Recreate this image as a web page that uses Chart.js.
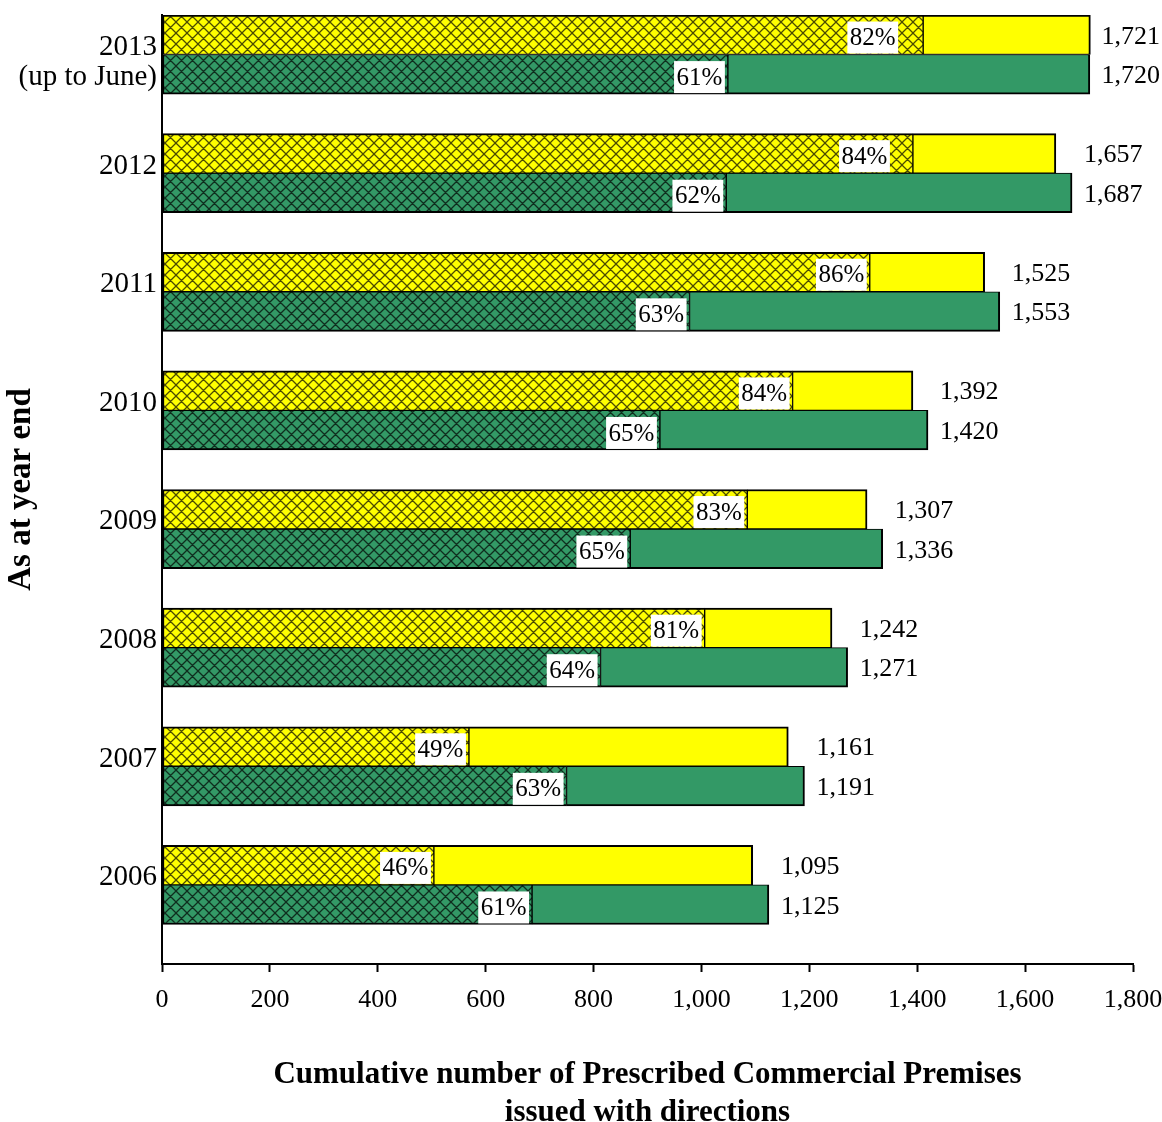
<!DOCTYPE html>
<html lang="en">
<head>
<meta charset="UTF-8">
<title>Prescribed Commercial Premises issued with directions</title>
<style>
  body { margin: 0; background: #fff; }
  #wrap { width: 1162px; height: 1122px; }
</style>
</head>
<body>
<div id="wrap"><canvas id="premisesChart" width="1162" height="1122"></canvas></div>
<script src="https://cdn.jsdelivr.net/npm/chart.js"></script>
<script>
// blank first line keeps "2013" level with the other year labels
const years = [['', '2013', '(up to June)'], '2012', '2011', '2010', '2009', '2008', '2007', '2006'];
const yellowTotals = [1721, 1657, 1525, 1392, 1307, 1242, 1161, 1095];
const yellowPct = [82, 84, 86, 84, 83, 81, 49, 46];
const greenTotals = [1720, 1687, 1553, 1420, 1336, 1271, 1191, 1125];
const greenPct = [61, 62, 63, 65, 65, 64, 63, 61];
const xTicks = [0, 200, 400, 600, 800, 1000, 1200, 1400, 1600, 1800];

const SERIF = '"Liberation Serif", "Times New Roman", serif';
const YELLOW = '#ffff00';
const GREEN = '#339966';

// hatched share of each bar, and what is left of the total
const share = (tot, pct) => tot.map((t, i) => Math.round(t * pct[i] / 100));
const rest = (tot, part) => tot.map((t, i) => t - part[i]);
const yellowHatch = share(yellowTotals, yellowPct);
const greenHatch = share(greenTotals, greenPct);

function crossHatch(bg) {
  const s = 11;
  const c = document.createElement('canvas');
  c.width = s; c.height = s;
  const g = c.getContext('2d');
  g.fillStyle = bg;
  g.fillRect(0, 0, s, s);
  g.strokeStyle = 'rgba(0,0,0,0.7)';
  g.lineWidth = 1.3;
  g.beginPath();
  for (const o of [-s, 0, s]) {
    g.moveTo(o, 0); g.lineTo(o + s, s);
    g.moveTo(o + s, 0); g.lineTo(o, s);
  }
  g.stroke();
  return g.createPattern(c, 'repeat');
}

// percentage boxes at the hatch edge and totals after the bars
const barLabels = {
  id: 'barLabels',
  afterDatasetsDraw(chart) {
    const ctx = chart.ctx;
    const nudge = { yellow: { 0: -22, 1: -20 }, green: {} };
    const rows = [
      { key: 'yellow', hatch: chart.getDatasetMeta(0), solid: chart.getDatasetMeta(1), pct: yellowPct, tot: yellowTotals },
      { key: 'green', hatch: chart.getDatasetMeta(2), solid: chart.getDatasetMeta(3), pct: greenPct, tot: greenTotals }
    ];
    ctx.save();
    ctx.textBaseline = 'middle';
    years.forEach((_, i) => {
      const tx = Math.max(rows[0].solid.data[i].x, rows[1].solid.data[i].x) + 12;
      rows.forEach(r => {
        const hb = r.hatch.data[i];
        const sb = r.solid.data[i];
        ctx.font = '25px ' + SERIF;
        const txt = r.pct[i] + '%';
        const w = ctx.measureText(txt).width + 5;
        const right = hb.x - 3 + (nudge[r.key][i] || 0);
        const bottom = hb.y + hb.height / 2 - 1;
        ctx.fillStyle = '#fff';
        ctx.fillRect(right - w, bottom - 32, w, 32);
        ctx.fillStyle = '#000';
        ctx.textAlign = 'center';
        ctx.fillText(txt, right - w / 2, bottom - 15);

        ctx.font = '26px ' + SERIF;
        const total = r.tot[i].toLocaleString('en-US');
        const tw = ctx.measureText(total).width;
        ctx.textAlign = 'left';
        ctx.fillText(total, Math.min(tx, chart.width - tw - 2), sb.y + 2);
      });
    });
    ctx.restore();
  }
};

const edgeL = { top: 2, bottom: 1, left: 2, right: 1 };
const edgeR = { top: 2, bottom: 1, left: 1, right: 2 };

new Chart(document.getElementById('premisesChart'), {
  type: 'bar',
  data: {
    labels: years,
    datasets: [
      { data: yellowHatch, stack: 'yellow', backgroundColor: crossHatch(YELLOW), borderWidth: edgeL },
      { data: rest(yellowTotals, yellowHatch), stack: 'yellow', backgroundColor: YELLOW, borderWidth: edgeR },
      { data: greenHatch, stack: 'green', backgroundColor: crossHatch(GREEN),
        borderWidth: { top: 1, bottom: 2, left: 2, right: 1 } },
      { data: rest(greenTotals, greenHatch), stack: 'green', backgroundColor: GREEN,
        borderWidth: { top: 1, bottom: 2, left: 1, right: 2 } },
      // empty stack fills the gap under each pair of bars
      { data: years.map(() => 0), stack: 'gap', backgroundColor: 'rgba(0,0,0,0)', borderWidth: 0 }
    ]
  },
  options: {
    indexAxis: 'y',
    responsive: false,
    animation: false,
    devicePixelRatio: 1,
    layout: { padding: { top: 15, right: 29, bottom: 0, left: 0 } },
    datasets: {
      bar: {
        borderColor: '#000',
        borderSkipped: false,
        categoryPercentage: 1,
        barPercentage: 1
      }
    },
    plugins: {
      legend: { display: false },
      tooltip: { enabled: false }
    },
    scales: {
      x: {
        stacked: true,
        min: 0,
        max: 1800,
        afterBuildTicks: s => { s.ticks = xTicks.map(v => ({ value: v })); },
        afterFit: s => { s.height = 158; s.paddingLeft = 0; s.paddingRight = 0; },
        grid: { drawOnChartArea: false, drawTicks: true, tickLength: 8, tickColor: '#000', tickWidth: 2 },
        border: { color: '#000', width: 2 },
        ticks: {
          color: '#000',
          padding: 13,
          font: { family: SERIF, size: 26 },
          callback: v => v.toLocaleString('en-US')
        },
        title: {
          display: true,
          text: ['Cumulative number of Prescribed Commercial Premises', 'issued with directions'],
          color: '#000',
          font: { family: SERIF, size: 31, weight: 'bold', lineHeight: '38px' },
          padding: { top: 0, bottom: -10 }
        }
      },
      y: {
        afterFit: s => { s.width = 162; s.paddingTop = 0; s.paddingBottom = 0; },
        grid: { drawOnChartArea: false, drawTicks: false },
        border: { color: '#000', width: 2 },
        ticks: {
          color: '#000',
          padding: 5,
          labelOffset: -27,
          font: { family: SERIF, size: 29, lineHeight: '30px' }
        },
        title: {
          display: true,
          text: 'As at year end',
          color: '#000',
          font: { family: SERIF, size: 33, weight: 'bold' },
          padding: { top: 2, bottom: 0 }
        }
      }
    }
  },
  plugins: [barLabels]
});
</script>
</body>
</html>
